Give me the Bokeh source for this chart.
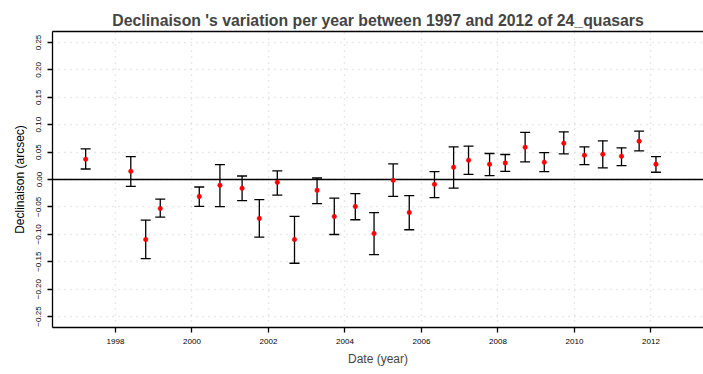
from bokeh.plotting import figure
from bokeh.models import (ColumnDataSource, FixedTicker, Span, LinearAxis, Title,
                          Range1d, Whisker, TeeHead)
from bokeh.embed import file_html
from bokeh.resources import INLINE

# ---- data ----
years = [1997.22, 1998.40, 1998.79, 1999.17, 2000.19, 2000.73, 2001.31, 2001.76,
         2002.23, 2002.68, 2003.27, 2003.72, 2004.27, 2004.76, 2005.26, 2005.68,
         2006.34, 2006.84, 2007.23, 2007.78, 2008.19, 2008.71, 2009.21, 2009.72,
         2010.26, 2010.74, 2011.23, 2011.69, 2012.13]
dec = [0.0370, 0.0150, -0.1095, -0.0527, -0.0308, -0.0106, -0.0161, -0.0710,
       -0.0051, -0.1095, -0.0198, -0.0674, -0.0491, -0.0985, -0.0015, -0.0600,
       -0.0088, 0.0223, 0.0352, 0.0279, 0.0302, 0.0589, 0.0315, 0.0663,
       0.0443, 0.0461, 0.0425, 0.0699, 0.0278]
upper = [0.0558, 0.0419, -0.0741, -0.0357, -0.0137, 0.0273, 0.0064, -0.0368,
         0.0156, -0.0674, 0.0027, -0.0339, -0.0258, -0.0606, 0.0284, -0.0295,
         0.0145, 0.0595, 0.0608, 0.0474, 0.0456, 0.0858, 0.0492, 0.0869,
         0.0595, 0.0705, 0.0577, 0.0882, 0.0419]
lower = [0.0192, -0.0124, -0.1442, -0.0686, -0.0491, -0.0496, -0.0386, -0.1053,
         -0.0284, -0.1528, -0.0441, -0.1003, -0.0734, -0.1369, -0.0308, -0.0917,
         -0.0331, -0.0156, 0.0095, 0.0071, 0.0150, 0.0320, 0.0145, 0.0467,
         0.0273, 0.0211, 0.0254, 0.0522, 0.0132]

x_ticks = [1998, 2000, 2002, 2004, 2006, 2008, 2010, 2012]
y_ticks = [-0.25, -0.2, -0.15, -0.1, -0.05, 0.0, 0.05, 0.1, 0.15, 0.2, 0.25]
y_tick_labels = ["\u22120.25", "\u22120.20", "\u22120.15", "\u22120.10", "\u22120.05",
                 "0.00", "0.05", "0.10", "0.15", "0.20", "0.25"]

title_text = "Declinaison 's variation per year between 1997 and 2012 of 24_quasars"
x_label = "Date (year)"
y_label = "Declinaison (arcsec)"

FONT = "Liberation Sans"
CENTER_SHIFT = 31  # text is centred on the (wider, cropped) plot region

src = ColumnDataSource(dict(x=years, y=dec, lo=lower, hi=upper))

p = figure(width=703, height=374, output_backend="svg", toolbar_location=None,
           x_range=Range1d(1996.353, 2013.373), y_range=Range1d(-0.27, 0.27),
           min_border_left=52, min_border_right=0, min_border_top=31,
           min_border_bottom=47)
p.outline_line_color = None
p.background_fill_color = "white"
p.border_fill_color = "white"

# title
p.title.text = title_text
p.title.text_font = FONT
p.title.text_font_size = "15.8px"
p.title.text_font_style = "bold"
p.title.align = "center"
p.title.vertical_align = "bottom"
p.title.offset = CENTER_SHIFT
p.title.standoff = 6

# grids
p.xgrid.ticker = FixedTicker(ticks=x_ticks)
p.ygrid.ticker = FixedTicker(ticks=y_ticks)
for g in (p.xgrid, p.ygrid):
    g.grid_line_color = "#D3D3D3"
    g.grid_line_dash = "1 5"
    g.grid_line_width = 1.5

# x axis
xa = p.xaxis[0]
xa.ticker = FixedTicker(ticks=x_ticks)
xa.major_label_overrides = {t: str(t) for t in x_ticks}
xa.minor_tick_line_color = None
xa.major_tick_out = 5
xa.major_tick_in = 0
xa.major_label_standoff = 6
xa.major_label_text_font = FONT
xa.major_label_text_font_size = "8px"
xa.major_label_text_color = "black"
xa.axis_line_color = "black"
xa.axis_line_width = 1.3
xa.major_tick_line_color = "black"
xa.major_tick_line_width = 1.3

# y axis
ya = p.yaxis[0]
ya.ticker = FixedTicker(ticks=y_ticks)
ya.major_label_overrides = {t: s for t, s in zip(y_ticks, y_tick_labels)}
ya.minor_tick_line_color = None
ya.major_tick_out = 5
ya.major_tick_in = 0
ya.major_label_orientation = "vertical"
ya.major_label_standoff = 6
ya.major_label_text_font = FONT
ya.major_label_text_font_size = "8px"
ya.major_label_text_color = "black"
ya.axis_line_color = "black"
ya.axis_line_width = 1.3
ya.major_tick_line_color = "black"
ya.major_tick_line_width = 1.3
ya.axis_label = y_label
ya.axis_label_text_font = FONT
ya.axis_label_text_font_size = "12px"
ya.axis_label_text_font_style = "normal"
ya.axis_label_text_color = "black"
ya.axis_label_standoff = 7

# top border as an axis line only (its invisible tick length lifts the title)
top = LinearAxis(major_tick_line_color=None, minor_tick_line_color=None,
                 major_tick_out=4, major_tick_in=0, minor_tick_out=0,
                 major_label_text_font_size="0px", major_label_standoff=0,
                 axis_line_color="black", axis_line_width=1.3,
                 ticker=FixedTicker(ticks=[]))
p.add_layout(top, "above")

# x label as a title below (centred like the reference)
xl = Title(text=x_label, align="center", offset=CENTER_SHIFT, text_font=FONT,
           text_font_size="12px", text_font_style="normal", standoff=7)
p.add_layout(xl, "below")

# zero line
p.add_layout(Span(location=0, dimension="width", line_color="black", line_width=1.3))

# error bars
w = Whisker(source=src, base="x", upper="hi", lower="lo", line_color="black",
            line_width=1.3,
            upper_head=TeeHead(size=10, line_color="black", line_width=1.3),
            lower_head=TeeHead(size=10, line_color="black", line_width=1.3))
p.add_layout(w)

p.scatter("x", "y", source=src, size=4.5, fill_color="red", line_color="red",
          line_width=0.5, level="overlay")

open("out.html", "w").write(file_html(p, INLINE))
